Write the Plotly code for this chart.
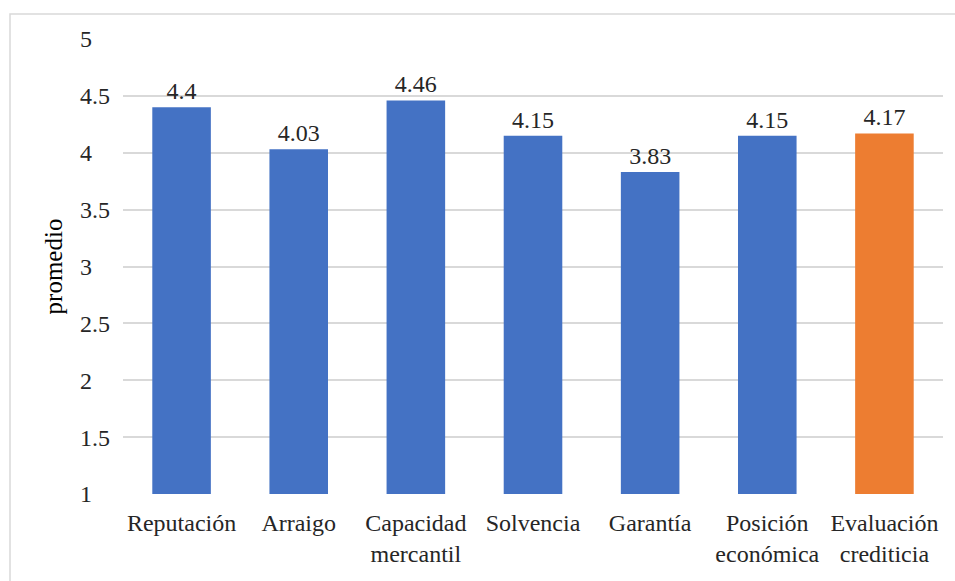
import plotly.graph_objects as go

categories = ["Reputación", "Arraigo", "Capacidad<br>mercantil", "Solvencia", "Garantía",
              "Posición<br>económica", "Evaluación<br>crediticia"]
values = [4.4, 4.03, 4.46, 4.15, 3.83, 4.15, 4.17]
labels = ["4.4", "4.03", "4.46", "4.15", "3.83", "4.15", "4.17"]
colors = ["#4472C4"] * 6 + ["#ED7D31"]
y_ticks = [1, 1.5, 2, 2.5, 3, 3.5, 4, 4.5, 5]
y_tick_labels = ["1", "1.5", "2", "2.5", "3", "3.5", "4", "4.5", "5"]

FONT = "Liberation Serif"
SZ = 24
TXT = "#262626"

# left-align the y tick labels (as in the source) by padding whole numbers
# with a punctuation space + figure space (same width as ".5")
pad = "\u2008\u2007"
y_text = [t if "." in t else t + pad for t in y_tick_labels]

fig = go.Figure(go.Bar(
    x=categories, y=values, marker=dict(color=colors, line=dict(width=0)),
    text=labels, textposition="outside", cliponaxis=False,
    textfont=dict(family=FONT, size=SZ, color=TXT),
))

fig.update_layout(
    width=955, height=581,
    margin=dict(l=123, r=12, t=39, b=87),
    paper_bgcolor="white", plot_bgcolor="white",
    bargap=0.5, showlegend=False,
    font=dict(family=FONT, size=SZ, color=TXT),
    xaxis=dict(showline=False, ticks="", ticklabelstandoff=12,
               tickfont=dict(family=FONT, size=SZ, color=TXT)),
    yaxis=dict(range=[1, 5], tickvals=y_ticks, ticktext=y_text,
               showgrid=True, gridcolor="#D9D9D9", gridwidth=1.5, zeroline=False,
               showline=False, ticks="", ticklabelstandoff=12,
               tickfont=dict(family=FONT, size=SZ, color=TXT),
               title=dict(text="promedio", font=dict(family=FONT, size=25, color="#000000"), standoff=10)),
    shapes=[dict(type="rect", xref="paper", yref="paper",
                 x0=(10 - 123) / 820, x1=1.1, y0=-0.3, y1=1 + 25 / 455,
                 line=dict(color="#D9D9D9", width=1.5), fillcolor="rgba(0,0,0,0)", layer="below")],
)

fig.write_html("out.html")
